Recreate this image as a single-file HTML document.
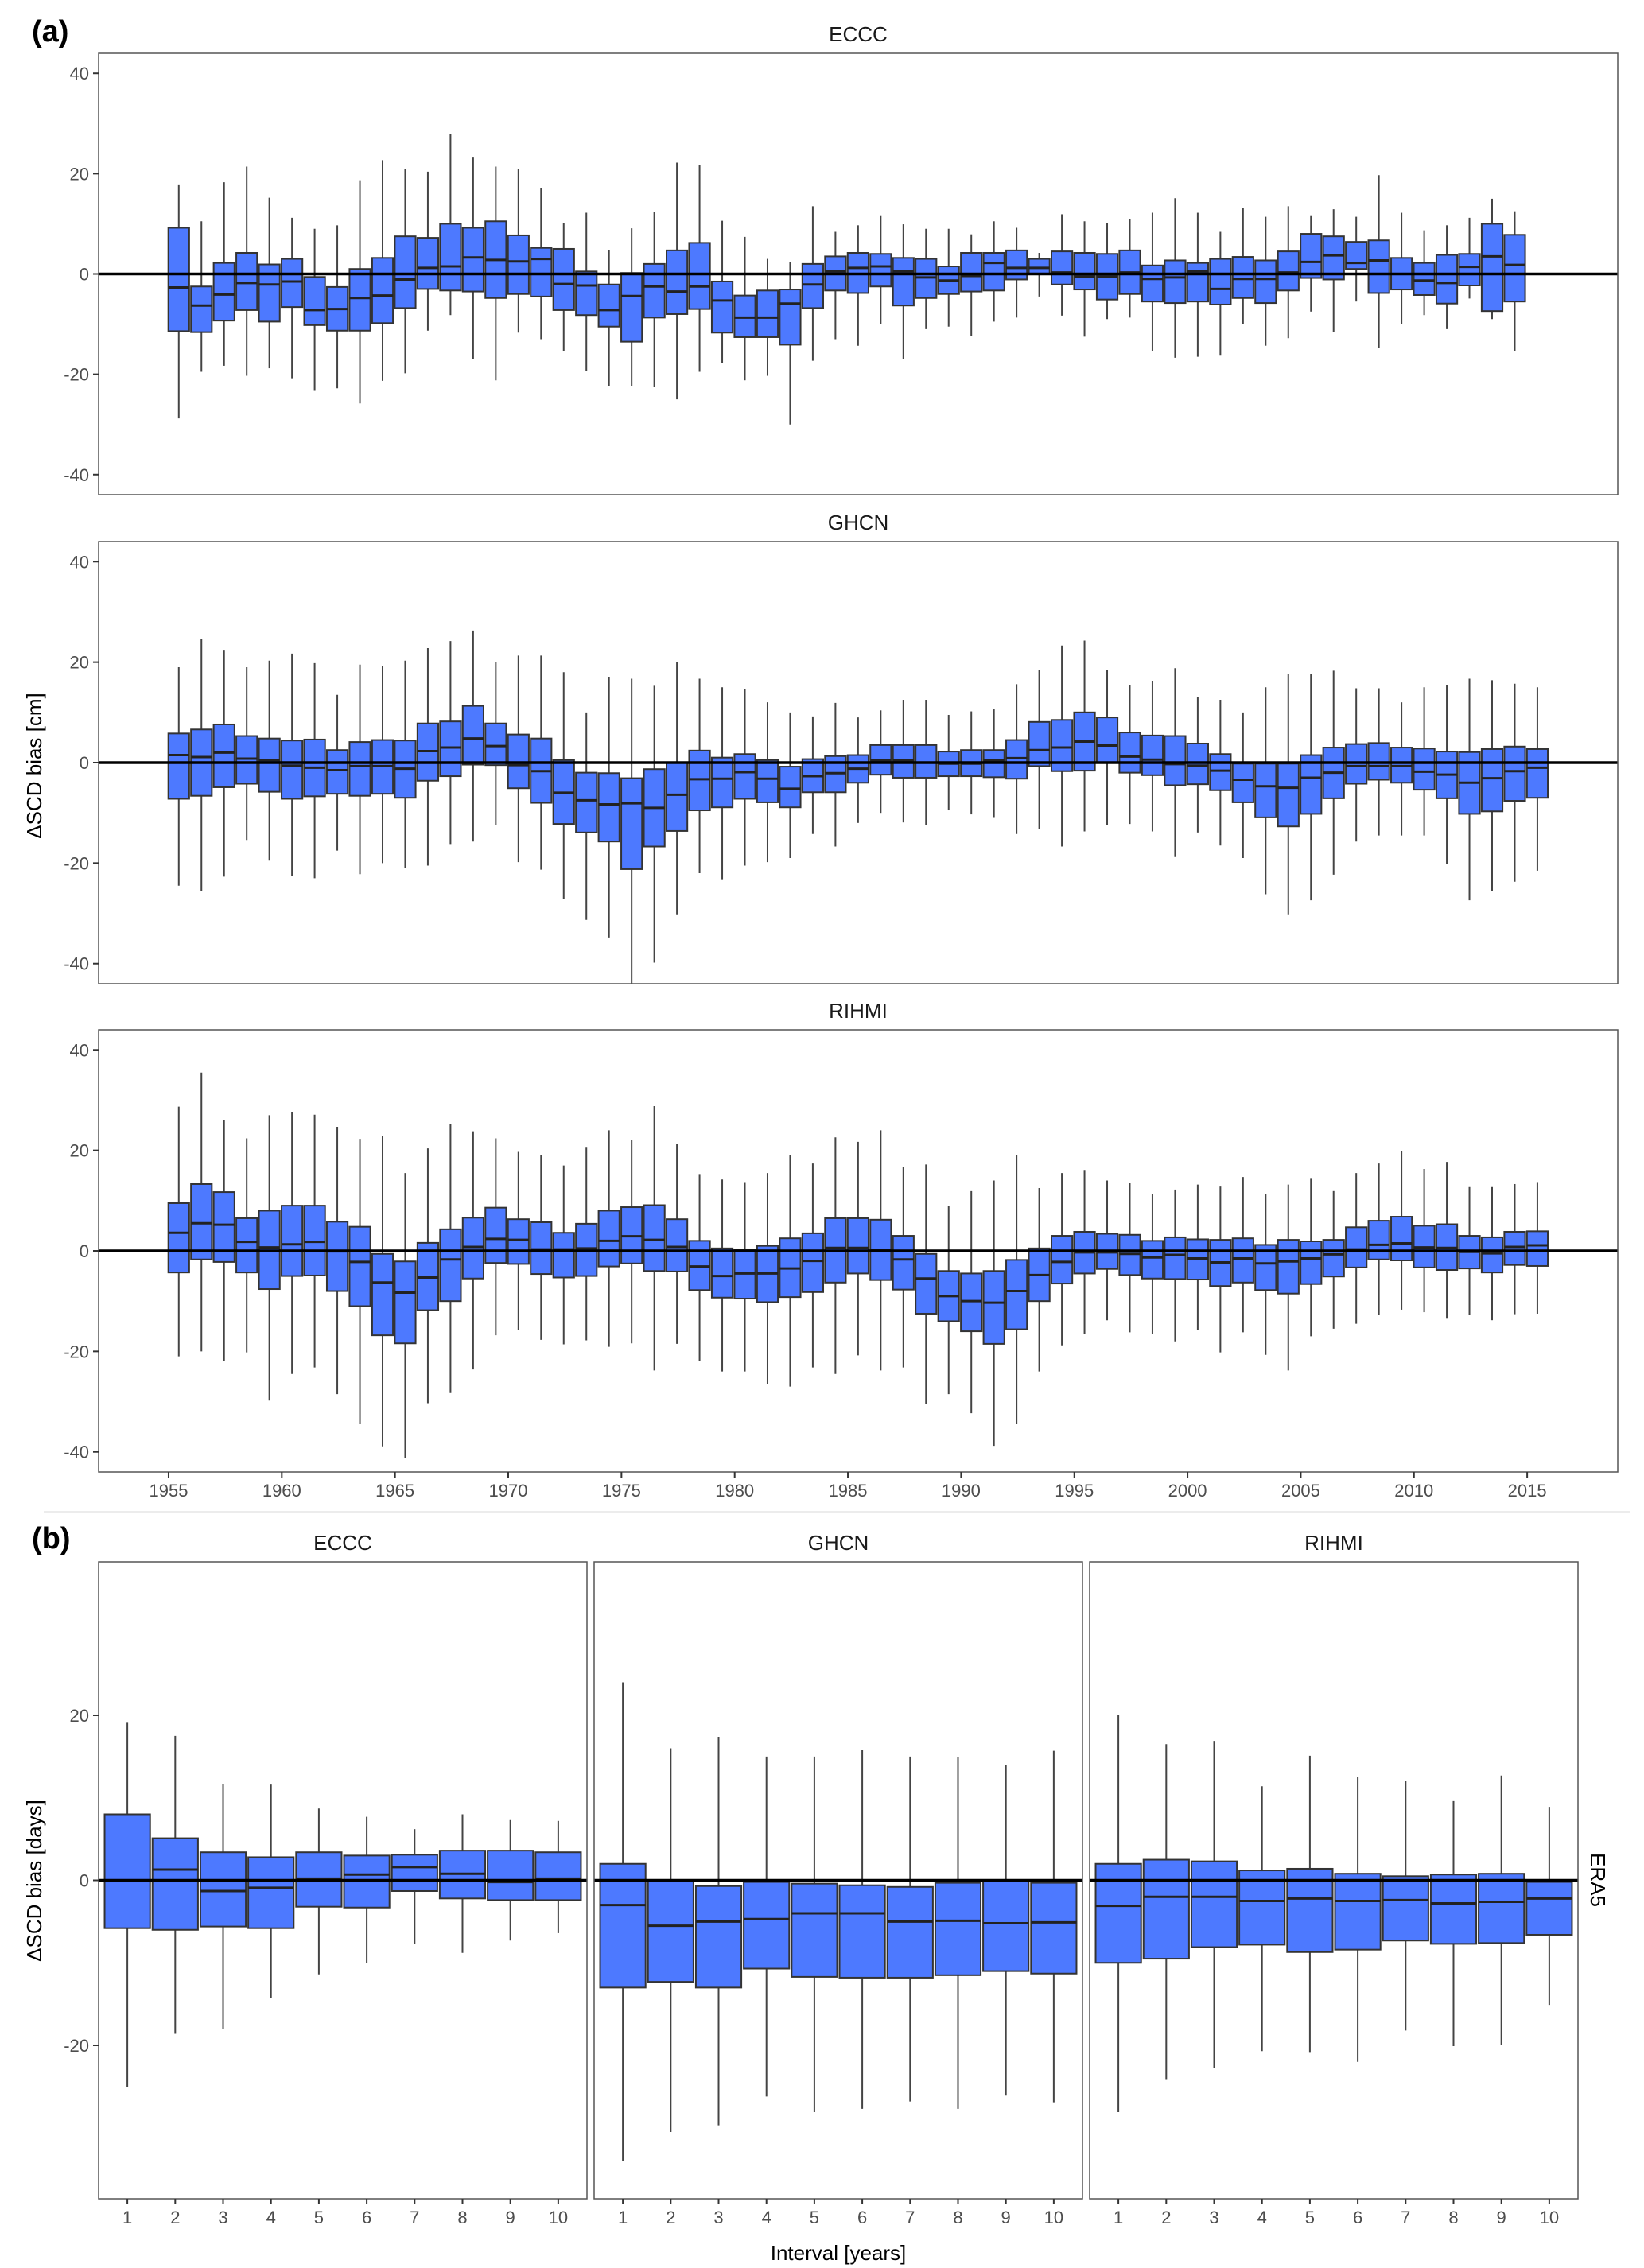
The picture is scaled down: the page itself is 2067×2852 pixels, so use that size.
<!DOCTYPE html>
<html><head><meta charset="utf-8">
<style>
html,body{margin:0;padding:0;background:#fff;}
svg{display:block;font-family:"Liberation Sans",Arial,sans-serif;}
</style></head>
<body>
<svg id="fig" width="2067" height="2852" viewBox="0 0 2067 2852" xmlns="http://www.w3.org/2000/svg">
<rect x="0" y="0" width="2067" height="2852" fill="#fff"/>
<text x="40" y="52" font-size="38" font-weight="bold" fill="#000">(a)</text>
<text x="40" y="1947" font-size="38" font-weight="bold" fill="#000">(b)</text>
<line x1="55" y1="1901" x2="2050" y2="1901" stroke="#ececec" stroke-width="2"/>
<text transform="translate(52,963) rotate(-90)" text-anchor="middle" font-size="26" fill="#000">ΔSCD bias [cm]</text>
<text transform="translate(52,2365) rotate(-90)" text-anchor="middle" font-size="26" fill="#000">ΔSCD bias [days]</text>
<text x="1054" y="2842" text-anchor="middle" font-size="26" fill="#000">Interval [years]</text>
<text transform="translate(2000,2364) rotate(90)" text-anchor="middle" font-size="26" fill="#000">ERA5</text>
<g id="plots"></g>
</svg>
<script>
// ---- Panel (a) data: [lowWhisker, q1, median, q3, highWhisker] per season ----
const eccc_hi  = [17.7,10.5,18.3,21.4,15.2,11.2,9.0,9.7,18.7,22.7,20.9,20.4,27.9,23.2,21.4,20.9,17.2,10.2,12.2,4.7,9.1,12.4,22.2,21.7,10.6,7.4,3.0,2.4,13.5,8.4,9.7,11.7,9.9,9.0,9.0,7.9,10.5,9.2,4.2,11.9,10.5,10.2,10.9,12.2,15.1,12.2,8.4,13.2,11.4,13.5,11.7,12.9,11.4,19.7,12.2,8.7,9.7,11.2,15.0,12.5];
const eccc_q3  = [9.2,-2.5,2.2,4.2,1.9,3.0,-0.6,-2.6,1.0,3.2,7.5,7.2,10.0,9.2,10.5,7.7,5.2,5.0,0.5,-2.1,0.2,2.0,4.7,6.2,-1.5,-4.3,-3.3,-3.1,2.0,3.5,4.2,4.0,3.2,3.0,1.5,4.2,4.2,4.7,3.0,4.5,4.2,4.0,4.7,1.7,2.7,2.2,3.0,3.4,2.7,4.5,8.0,7.5,6.4,6.7,3.2,2.2,3.8,4.0,10.0,7.8];
const eccc_med = [-2.7,-6.3,-4.1,-1.8,-2.1,-1.5,-7.2,-7.0,-4.8,-4.3,-1.1,1.2,1.5,3.3,2.8,2.5,3.0,-2.0,-2.3,-7.2,-4.4,-2.5,-3.5,-2.5,-5.3,-8.7,-8.7,-5.9,-2.1,0.5,1.2,1.5,0.5,-0.7,-1.3,-0.4,2.2,1.2,1.2,0.3,-0.5,-0.5,0.3,-1.0,-0.7,0.5,-3.0,-1.0,-1.0,0.3,2.4,3.7,2.2,2.7,0,-1.3,-1.8,1.4,3.5,1.8];
const eccc_q1  = [-11.4,-11.6,-9.3,-7.2,-9.5,-6.6,-10.2,-11.3,-11.3,-9.8,-6.8,-3.0,-3.3,-3.5,-4.8,-4.0,-4.5,-7.2,-8.2,-10.5,-13.5,-8.7,-8.0,-7.0,-11.7,-12.6,-12.6,-14.1,-6.8,-3.3,-3.8,-2.5,-6.3,-4.8,-4.0,-3.5,-3.3,-1.1,0,-2.1,-3.1,-5.1,-4.0,-5.5,-5.8,-5.5,-6.1,-4.8,-5.8,-3.3,-0.8,-1.1,1.0,-3.8,-3.1,-4.2,-5.9,-2.3,-7.4,-5.5];
const eccc_lo  = [-28.8,-19.5,-18.3,-20.3,-18.8,-20.8,-23.3,-22.8,-25.8,-21.3,-19.8,-11.3,-8.2,-17.0,-21.2,-11.7,-13.0,-15.3,-19.3,-22.3,-22.3,-22.6,-25.0,-19.5,-17.7,-21.2,-20.3,-30.0,-17.3,-13.0,-14.3,-10.0,-17.0,-11.0,-10.5,-12.3,-9.5,-8.7,-4.5,-8.3,-12.5,-9.0,-8.7,-15.4,-16.7,-16.5,-16.3,-10.0,-14.3,-12.8,-7.5,-11.6,-5.5,-14.7,-10.0,-8.2,-11.0,-4.9,-9.0,-15.3];

const ghcn_hi  = [19.0,24.6,22.3,19.0,20.3,21.7,19.8,13.5,19.5,19.3,20.3,22.8,24.2,26.3,20.1,21.3,21.3,18.0,10.0,17.1,16.7,15.3,20.1,16.7,15.0,14.7,12.0,10.0,9.2,11.9,9.0,10.4,12.5,12.5,9.5,10.2,10.6,15.6,18.5,23.3,24.3,18.5,15.5,16.3,18.8,13.0,12.5,10.0,15.0,17.7,17.7,18.3,14.8,14.8,12.0,15.0,15.5,16.7,16.4,15.7,15.0];
const ghcn_q3  = [5.8,6.6,7.6,5.3,4.8,4.4,4.6,2.5,4.1,4.5,4.4,7.8,8.2,11.3,7.8,5.6,4.8,0.5,-2.0,-2.1,-3.1,-1.3,0,2.4,1.0,1.7,0.5,-0.8,0.7,1.3,1.5,3.5,3.5,3.5,2.2,2.5,2.5,4.5,8.1,8.5,10.0,9.0,6.0,5.4,5.3,3.8,1.7,-0.2,-0.2,-0.2,1.5,3.0,3.7,3.9,3.0,2.8,2.2,2.1,2.7,3.2,2.7];
const ghcn_med = [1.5,1.1,2.0,0.8,0.5,-0.6,-1.0,-1.5,-0.7,-0.7,-1.2,2.3,3.0,4.8,3.3,-0.5,-1.7,-6.0,-7.5,-8.3,-8.1,-9.0,-6.4,-3.3,-3.2,-1.9,-3.2,-5.2,-2.7,-2.1,-1.2,0.4,0.4,0,-0.2,-0.2,0.4,0.9,2.5,3.0,4.2,3.4,1.2,0.6,-0.3,-0.6,-1.6,-3.4,-4.7,-5.0,-3.0,-2.0,-0.7,-0.7,-0.7,-1.8,-2.4,-4.0,-3.1,-1.7,-1.0];
const ghcn_q1  = [-7.2,-6.6,-4.9,-4.2,-5.8,-7.2,-6.7,-6.2,-6.6,-6.2,-7.0,-3.6,-2.7,-0.4,-0.5,-5.1,-8.0,-12.2,-13.9,-15.7,-21.2,-16.7,-13.6,-9.5,-8.9,-7.2,-7.9,-8.9,-5.9,-5.9,-4.0,-2.4,-3.0,-3.0,-2.7,-2.7,-2.9,-3.2,-0.7,-1.7,-1.6,0,-2.0,-2.5,-4.5,-4.3,-5.5,-7.9,-10.9,-12.7,-10.2,-7.1,-4.2,-3.4,-4.0,-5.4,-7.1,-10.2,-9.7,-7.6,-7.0];
const ghcn_lo  = [-24.5,-25.5,-22.7,-15.4,-19.5,-22.5,-23.0,-17.5,-22.2,-20.0,-21.0,-20.5,-16.2,-15.7,-12.5,-19.8,-21.3,-27.2,-31.3,-34.8,-48,-39.8,-30.2,-22.0,-23.2,-20.5,-19.8,-19.0,-14.2,-16.7,-12.0,-10.0,-11.9,-12.4,-9.5,-10.3,-11.0,-14.2,-13.2,-16.7,-13.7,-12.5,-12.2,-13.7,-18.8,-13.9,-16.5,-19.0,-26.2,-30.2,-27.4,-22.3,-15.7,-14.5,-14.5,-14.5,-20.2,-27.4,-25.5,-23.7,-21.5];

const rihmi_hi  = [28.7,35.5,26.0,22.4,27.0,27.7,27.1,24.7,22.3,22.8,15.5,20.4,25.3,23.8,22.4,19.7,19.0,17.0,20.7,24.0,22.0,28.8,21.3,15.3,14.2,13.7,15.5,19.0,17.4,22.6,21.7,24.0,16.7,17.2,8.9,11.9,14.0,19.0,12.5,15.5,16.1,14.0,13.5,11.3,12.2,13.2,12.8,14.7,11.4,13.2,14.5,11.9,15.5,17.4,19.8,16.3,17.7,12.7,12.7,13.3,13.7];
const rihmi_q3  = [9.5,13.3,11.7,6.5,8.0,9.0,9.0,5.8,4.8,-0.6,-2.1,1.6,4.3,6.6,8.6,6.3,5.7,3.6,5.4,8.0,8.7,9.1,6.3,2.0,0.5,0.3,1.0,2.5,3.5,6.5,6.5,6.2,3.0,-0.6,-4.0,-4.5,-4.0,-1.8,0.5,3.0,3.8,3.4,3.2,2.0,2.7,2.3,2.2,2.5,1.2,2.2,1.9,2.2,4.7,6.0,6.8,5.0,5.3,3.0,2.7,3.8,3.9];
const rihmi_med = [3.6,5.5,5.2,1.8,0.7,1.3,1.8,-0.1,-2.2,-6.3,-8.3,-5.3,-1.7,0.8,2.4,2.2,0.3,0.3,0.5,2.0,2.9,2.2,0.8,-3.1,-5.0,-4.5,-4.5,-3.5,-2.0,0.6,0.6,0.2,-1.7,-5.5,-9.0,-10.0,-10.3,-8.0,-4.8,-2.2,-0.3,-0.3,-0.6,-1.3,-0.8,-1.5,-2.3,-1.5,-2.5,-2.1,-1.5,-0.7,0.3,1.2,1.5,0.7,0.6,-0.2,-0.5,0.8,1.1];
const rihmi_q1  = [-4.3,-1.7,-2.2,-4.3,-7.6,-5.0,-4.9,-8.0,-11.0,-16.8,-18.4,-11.8,-10.0,-5.5,-2.4,-2.6,-4.6,-5.3,-5.0,-3.1,-2.5,-4.0,-4.1,-7.8,-9.3,-9.5,-10.2,-9.2,-8.2,-6.3,-4.5,-5.8,-7.7,-12.5,-14.0,-16.0,-18.5,-15.6,-10.0,-6.5,-4.5,-3.6,-4.8,-5.5,-5.6,-5.7,-7.0,-6.3,-7.8,-8.5,-6.6,-5.1,-3.3,-1.7,-1.9,-3.3,-3.8,-3.5,-4.3,-2.8,-3.0];
const rihmi_lo  = [-21.0,-20.0,-22.0,-20.2,-29.8,-24.5,-23.2,-28.5,-34.5,-38.9,-41.3,-30.3,-28.3,-23.6,-16.8,-15.7,-17.7,-18.6,-17.8,-19.1,-18.4,-23.8,-18.5,-22.0,-24.0,-24.0,-26.5,-27.0,-23.2,-24.5,-20.8,-23.8,-23.2,-30.4,-28.5,-32.3,-38.8,-34.5,-24.0,-18.8,-16.5,-13.8,-16.2,-16.5,-18.0,-15.7,-20.2,-16.2,-20.7,-23.8,-17.0,-15.5,-14.5,-12.7,-11.7,-12.2,-13.5,-12.7,-13.8,-12.6,-12.5];

const yearTicks = [1955,1960,1965,1970,1975,1980,1985,1990,1995,2000,2005,2010,2015];
const yTicksA = [40,20,0,-20,-40];

// ---- Panel (b) data ----
const intervals = [1,2,3,4,5,6,7,8,9,10];
const bEccc_hi  = [19.1,17.5,11.7,11.6,8.7,7.7,6.2,8.0,7.3,7.2];
const bEccc_q3  = [8.0,5.1,3.4,2.8,3.4,3.0,3.1,3.6,3.6,3.4];
const bEccc_med = [0,1.3,-1.3,-0.9,0.2,0.7,1.6,0.8,-0.2,0.2];
const bEccc_q1  = [-5.8,-6.0,-5.6,-5.8,-3.2,-3.3,-1.3,-2.2,-2.4,-2.4];
const bEccc_lo  = [-25.1,-18.6,-18.0,-14.3,-11.4,-10.0,-7.7,-8.8,-7.3,-6.4];
const bGhcn_hi  = [24.0,16.0,17.4,15.0,15.0,15.8,15.0,14.9,14.0,15.7];
const bGhcn_q3  = [2.0,0,-0.7,-0.2,-0.4,-0.6,-0.8,-0.3,0,-0.3];
const bGhcn_med = [-3.0,-5.5,-5.0,-4.7,-4.0,-4.0,-5.0,-4.9,-5.2,-5.1];
const bGhcn_q1  = [-13.0,-12.3,-13.0,-10.7,-11.7,-11.8,-11.8,-11.5,-11.0,-11.3];
const bGhcn_lo  = [-34.0,-30.5,-29.7,-26.2,-28.1,-27.7,-26.8,-27.7,-26.1,-26.9];
const bRihmi_hi  = [20.0,16.5,16.9,11.4,15.1,12.5,12.0,9.6,12.7,8.9];
const bRihmi_q3  = [2.0,2.5,2.3,1.2,1.4,0.8,0.5,0.7,0.8,-0.2];
const bRihmi_med = [-3.1,-2.0,-2.0,-2.5,-2.2,-2.5,-2.4,-2.8,-2.6,-2.2];
const bRihmi_q1  = [-10.0,-9.5,-8.1,-7.8,-8.7,-8.4,-7.3,-7.7,-7.6,-6.6];
const bRihmi_lo  = [-28.1,-24.1,-22.7,-20.7,-20.9,-22.0,-18.2,-20.1,-20.0,-15.1];
const yTicksB = [20,0,-20];

const NS = "http://www.w3.org/2000/svg";
const root = document.getElementById('plots');
const FILL = "#4d79ff";
function mk(tag, attrs, parent){
  const e = document.createElementNS(NS, tag);
  for (const k in attrs) e.setAttribute(k, attrs[k]);
  (parent||root).appendChild(e);
  return e;
}

function drawPanel(cfg){
  const g = mk('g', {});
  
  
  const cp = 'clip-' + cfg.name;
  const defs = mk('defs', {}, g);
  const clip = mk('clipPath', {id: cp}, defs);
  mk('rect', {x: cfg.x0, y: cfg.y0, width: cfg.x1 - cfg.x0, height: cfg.y1 - cfg.y0}, clip);
  const xs = v => cfg.x0 + (v - cfg.xmin) / (cfg.xmax - cfg.xmin) * (cfg.x1 - cfg.x0);
  const ys = v => cfg.y0 + (cfg.ymax - v) / (cfg.ymax - cfg.ymin) * (cfg.y1 - cfg.y0);
  const t = mk('text', {x: (cfg.x0 + cfg.x1) / 2, y: cfg.y0 - 15, 'text-anchor': 'middle', 'font-size': 26, fill: '#1a1a1a'}, g);
  t.textContent = cfg.title;
  
  
  const marks = mk('g', {'clip-path': 'url(#' + cp + ')'}, g);
  const n = cfg.hi.length;
  const hw = cfg.bw / 2;
  for (let i = 0; i < n; i++){
    const cx = xs(cfg.pos[i]);
    const bg = mk('g', {}, marks);
    
    
    const w1 = mk('line', {x1: cx, x2: cx, y1: ys(cfg.hi[i]), y2: ys(cfg.q3[i]), stroke: '#444', 'stroke-width': 2}, bg);
    
    
    const w2 = mk('line', {x1: cx, x2: cx, y1: ys(cfg.q1[i]), y2: ys(cfg.lo[i]), stroke: '#444', 'stroke-width': 2}, bg);
    
    
    const r = mk('rect', {x: xs(cfg.pos[i] - hw), y: ys(cfg.q3[i]), width: xs(cfg.pos[i] + hw) - xs(cfg.pos[i] - hw), height: ys(cfg.q1[i]) - ys(cfg.q3[i]), fill: FILL, stroke: '#333', 'stroke-width': 2}, bg);
    
    
    const m = mk('line', {x1: xs(cfg.pos[i] - hw), x2: xs(cfg.pos[i] + hw), y1: ys(cfg.med[i]), y2: ys(cfg.med[i]), stroke: '#222', 'stroke-width': 3}, bg);
    
    
  }
  const z = mk('line', {x1: cfg.x0, x2: cfg.x1, y1: ys(0), y2: ys(0), stroke: '#000', 'stroke-width': 3.5}, g);
  
  
  const fr = mk('rect', {x: cfg.x0, y: cfg.y0, width: cfg.x1 - cfg.x0, height: cfg.y1 - cfg.y0, fill: 'none', stroke: '#555', 'stroke-width': 1.5}, g);
  
  
  if (cfg.yTicks){
    cfg.yTicks.forEach(v => {
      const tk = mk('line', {x1: cfg.x0 - 7, x2: cfg.x0, y1: ys(v), y2: ys(v), stroke: '#333', 'stroke-width': 2}, g);
      
      
      const lb = mk('text', {x: cfg.x0 - 12, y: ys(v) + 8, 'text-anchor': 'end', 'font-size': 22, fill: '#4d4d4d'}, g);
      lb.textContent = v;
      
      
    });
  }
  if (cfg.xTicks){
    cfg.xTicks.forEach(v => {
      const tk = mk('line', {x1: xs(v), x2: xs(v), y1: cfg.y1, y2: cfg.y1 + 7, stroke: '#333', 'stroke-width': 2}, g);
      
      
      const lb = mk('text', {x: xs(v), y: cfg.y1 + 31, 'text-anchor': 'middle', 'font-size': 22, fill: '#4d4d4d'}, g);
      lb.textContent = v;
      
      
    });
  }
}

const seasonsA = eccc_hi.map((_, i) => 1955.45 + i);
const seasonsB = ghcn_hi.map((_, i) => 1955.45 + i);
const aCommon = {x0: 124, x1: 2034, xmin: 1951.91, xmax: 2019.0, ymin: -44, ymax: 44, bw: 0.92, yTicks: yTicksA};
drawPanel(Object.assign({}, aCommon, {name: 'eccc-time-panel', title: 'ECCC', y0: 67, y1: 622, pos: seasonsA, hi: eccc_hi, q3: eccc_q3, med: eccc_med, q1: eccc_q1, lo: eccc_lo}));
drawPanel(Object.assign({}, aCommon, {name: 'ghcn-time-panel', title: 'GHCN', y0: 681, y1: 1237, pos: seasonsB, hi: ghcn_hi, q3: ghcn_q3, med: ghcn_med, q1: ghcn_q1, lo: ghcn_lo}));
drawPanel(Object.assign({}, aCommon, {name: 'rihmi-time-panel', title: 'RIHMI', y0: 1295, y1: 1851, pos: seasonsB, hi: rihmi_hi, q3: rihmi_q3, med: rihmi_med, q1: rihmi_q1, lo: rihmi_lo, xTicks: yearTicks}));

const bCommon = {xmin: 0.4, xmax: 10.6, ymin: -38.6, ymax: 38.6, y0: 1964, y1: 2765, bw: 0.95, pos: intervals, xTicks: intervals};
drawPanel(Object.assign({}, bCommon, {name: 'eccc-interval-panel', title: 'ECCC', x0: 124, x1: 738, yTicks: yTicksB, hi: bEccc_hi, q3: bEccc_q3, med: bEccc_med, q1: bEccc_q1, lo: bEccc_lo}));
drawPanel(Object.assign({}, bCommon, {name: 'ghcn-interval-panel', title: 'GHCN', x0: 747, x1: 1361, hi: bGhcn_hi, q3: bGhcn_q3, med: bGhcn_med, q1: bGhcn_q1, lo: bGhcn_lo}));
drawPanel(Object.assign({}, bCommon, {name: 'rihmi-interval-panel', title: 'RIHMI', x0: 1370, x1: 1984, hi: bRihmi_hi, q3: bRihmi_q3, med: bRihmi_med, q1: bRihmi_q1, lo: bRihmi_lo}));
</script>
</body></html>
